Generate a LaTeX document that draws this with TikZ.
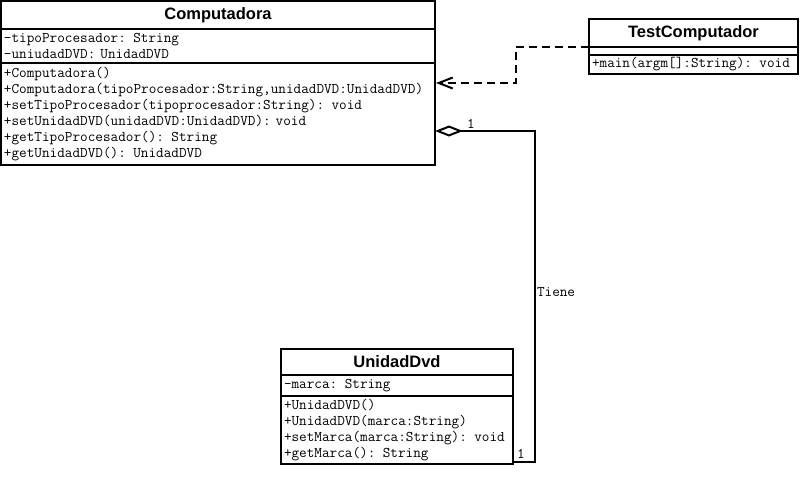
\documentclass[tikz,border=0pt]{standalone}
\usepackage{fontspec}
\setmainfont{Liberation Sans}
\setmonofont{Latin Modern Mono}
\usetikzlibrary{arrows.meta,positioning}

\begin{document}
\begin{tikzpicture}[x=1pt,y=-1pt,line width=2pt,node distance=0pt,
    every node/.style={inner ysep=0pt,inner xsep=3pt,outer sep=0pt},
    classname/.style={draw,font=\fontsize{16.5}{18}\selectfont\bfseries,align=center},
    members/.style={draw,font=\fontsize{14.8}{16}\selectfont\ttfamily,align=left},
    tag/.style={font=\fontsize{14.8}{16}\selectfont\ttfamily,inner sep=0pt,anchor=west},
    dep/.style={dash pattern=on 8pt off 5pt,-{Straight Barb[length=14pt,width=11pt]},shorten >=1pt},
    agg/.style={{Diamond[open,length=28pt,width=11pt]}-}]
    \useasboundingbox (0,0) rectangle (802,482);

    % Computadora
    \node[classname,text width=428pt,minimum height=28pt,anchor=north west] (compname) at (1,1) {Computadora};
    \node[members,text width=428pt,minimum height=34pt,below=of compname] (compattr)
        {-tipoProcesador: String\\-uniudadDVD: UnidadDVD};
    \node[members,text width=428pt,minimum height=102pt,below=of compattr] (compops)
        {+Computadora()\\
         +Computadora(tipoProcesador:String,unidadDVD:UnidadDVD)\\
         +setTipoProcesador(tipoprocesador:String): void\\
         +setUnidadDVD(unidadDVD:UnidadDVD): void\\
         +getTipoProcesador(): String\\
         +getUnidadDVD(): UnidadDVD};

    % TestComputador
    \node[classname,text width=203pt,minimum height=28pt,anchor=north west] (testname) at (589,19) {TestComputador};
    \node[members,text width=203pt,minimum height=8pt,below=of testname] (testattr) {};
    \node[members,text width=203pt,minimum height=19pt,below=of testattr] (testops)
        {+main(argm[]:String): void};

    % UnidadDvd
    \node[classname,text width=226pt,minimum height=26pt,anchor=north west] (unidadname) at (281,349) {UnidadDvd};
    \node[members,text width=226pt,minimum height=21pt,below=of unidadname] (unidadattr)
        {-marca: String};
    \node[members,text width=226pt,minimum height=68pt,below=of unidadattr] (unidadops)
        {+UnidadDVD()\\
         +UnidadDVD(marca:String)\\
         +setMarca(marca:String): void\\
         +getMarca(): String};

    % relaciones
    \draw[dep] (testname.south west) -- ++(-73,0) |- ([yshift=-20pt]compops.north east);
    \draw[agg] ([yshift=-68pt]compops.north east) -- ++(100,0) |- ([yshift=2pt]unidadops.south east);

    \node[tag] (multcomp) at (467,124) {1};
    \node[tag] (multunidad) at (517,454) {1};
    \node[tag] (tiene) at (537,292) {Tiene};
\end{tikzpicture}
\end{document}
